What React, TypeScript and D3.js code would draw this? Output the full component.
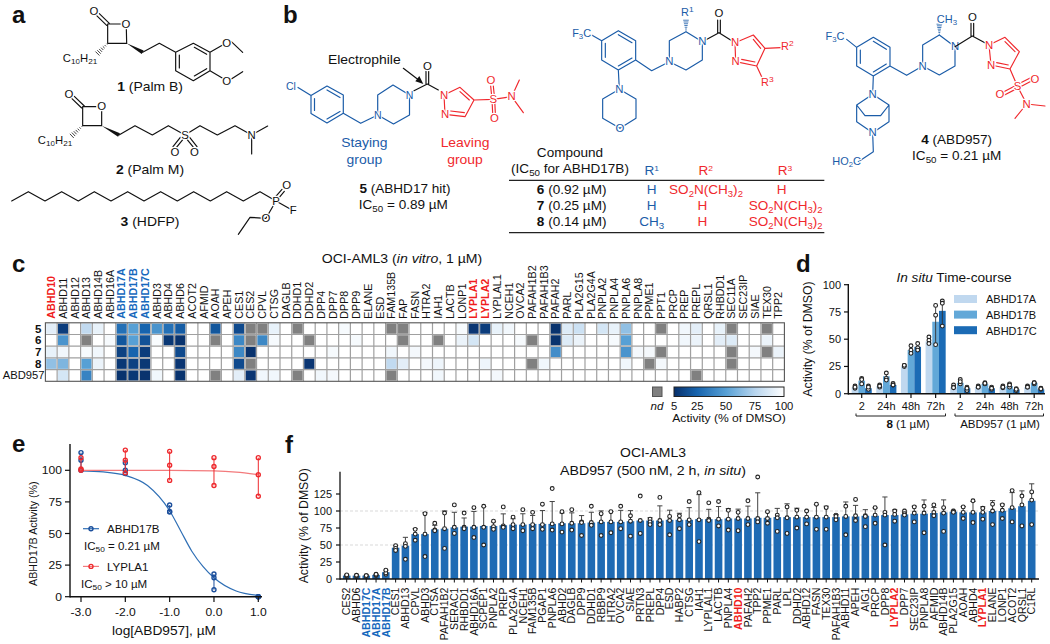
import React from "react";
import * as d3 from "d3";

const FONT = "'Liberation Sans', Arial, sans-serif";
const BLUE = "#1b5ca8";
const RED = "#f0282d";
const LBL_BLUE = "#1668bd";
const N = null;

// ---------- panel c ----------
const heatCols = ["ABHD10","ABHD11","ABHD12","ABHD13","ABHD14B","ABHD16A","ABHD17A","ABHD17B","ABHD17C","ABHD3","ABHD4","ABHD6","ACOT2","AFMID","AOAH","APEH","CES1","CES2","CPVL","CTSG","DAGLB","DDHD1","DDHD2","DPP4","DPP7","DPP8","DPP9","ELANE","ESD","FAM135B","FAP","FASN","HTRA2","IAH1","LACTB","LONP1","LYPLA1","LYPLA2","LYPLAL1","NCEH1","OVCA2","PAFAH1B2","PAFAH1B3","PAFAH2","PARL","PLA2G15","PLA2G4A","PNPLA2","PNPLA4","PNPLA6","PNPLA8","PPME1","PPT1","PRCP","PREP","PREPL","QRSL1","RHBDD1","SEC11A","SEC23IP","SIAE","TEX30","TPP2"];
const heatRowNames = ["5","6","7","8","ABD957"];
const row5 = [90,10,100,78,92,100,30,50,25,45, 30,22,100,100,20,100,15,N,N,92, 100,N,100,100,100,97,100,100,100,N, N,100,100,100,100,97,7,10,92,95, 100,100,100,6,88,82,100,85,92,65, 100,100,N,100,95,90,100,92,N,100, 100,N,100];
const row6 = [100,45,100,N,100,97,20,50,18,98, 8,6,100,100,N,100,40,N,40,97, 100,100,N,100,100,100,97,100,100,100, N,100,100,N,100,93,85,100,100,100, 97,N,100,6,88,93,100,100,97,50, 100,100,100,100,95,93,100,90,88,100, 100,93,100];
const row7 = [92,95,100,97,95,100,12,25,10,100, 100,15,100,100,100,100,40,6,100,100, 100,100,100,100,97,100,100,100,100,95, 100,96,100,100,100,100,100,100,100,100, 100,100,100,42,100,100,100,100,100,45, 96,96,N,100,100,100,100,100,N,100, 96,N,93];
const row8 = [65,60,100,50,93,100,8,12,8,100, 100,7,100,100,100,100,15,N,100,100, 100,100,7,100,100,100,100,100,100,78, 90,100,96,94,100,100,100,94,100,100, 100,N,95,100,100,100,100,100,100,95, 100,N,96,100,100,100,100,100,N,100, 100,100,100];
const rowABD = [100,85,100,38,100,100,6,8,6,95, 100,6,100,100,N,100,90,7,95,95, 100,N,100,95,96,100,100,100,100,N, 100,100,100,95,100,100,100,100,96,100, 100,100,100,100,100,100,100,100,100,100, 100,100,100,100,100,N,100,100,100,100, 100,100,100];
const heatRows = [row5,row6,row7,row8,rowABD];
const heatStops = [5,25,50,75,100];
const heatColors = ["#08306b","#1764ae","#57a0d5","#b8d5ee","#ffffff"];
const blueLabels = ["ABHD17A","ABHD17B","ABHD17C"];
const redLabels = ["ABHD10","LYPLA1","LYPLA2"];

// ---------- panel d ----------
const timeLabels = ["2","24h","48h","72h","2","24h","48h","72h"];
const dSeries = ["ABHD17A","ABHD17B","ABHD17C"];
const dColors = ["#c0d8ef","#62a8d8","#1b6bb5"];
const dMeans = [[6,7,25,48,6,6,6,6],[12,16,40,66,10,9,7,10],[5,8,43,76,5,5,4,4]];
const dPointsA = [[7,5,6],[8,6,7],[26,25,26],[52,49,46],[8,6,5.5],[7,6,6],[7,5.5,6],[7,6,6]];
const dPointsB = [[14,9,13],[19,14,12.5],[44,40,37],[81,72,45],[13,9,11],[10,9,9.5],[9,6,8],[10,9,10]];
const dPointsC = [[7,4,6],[9.5,8,8],[46,42,40],[85,83,62],[6,3,5],[6,4,5],[4.5,3,4],[5,4,4.5]];
const dPoints = [dPointsA,dPointsB,dPointsC];
const dTicks = [0,25,50,75,100];

// ---------- panel e ----------
const eDoses = [-3,-2,-1,0,1];
const eBluePts = [[114,108,100],[106,100,97.5],[72.5,67,67.5],[18,15,5.5],[0,0,0]];
const eRedPts = [[110,101,100],[116,108,98],[115,104,92],[110,103,88],[110,96.5,79.5]];
const eBlueCurveX = [-3,-2.5,-2,-1.5,-1,-0.75,-0.5,-0.25,0,0.5,1];
const eBlueCurveY = [99.5,98.7,96,88,68,52,36,24,15,4.5,1];
const eRedCurveX = [-3,-2,-1,0,0.5,1];
const eRedCurveY = [100,100,100,99.5,98.5,96.5];
const eTicks = [0,25,50,75,100];

// ---------- panel f ----------
const fNames = ["CES2","ABHD6","ABHD17C","ABHD17A","ABHD17B","CES1","ABHD13","CPVL","ABHD3","CTSA","PAFAH1B2","SERAC1","RHBDD1","ABHD16A","SCPEP1","PNPLA2","PREP","PLA2G4A","NCEH1","FAM135B","PGAP1","PNPLA6","ABHD2","DAGLB","DPP9","DDHD1","RBBP9","HTRA2","OVCA2","SIAE","PRTN3","PREPL","DPP4","ESD","HABP2","CTSG","IAH1","LYPLAL1","LACTB","PNPLA4","ABHD10","PAFAH2","TPP2","PPME1","PARL","LPL","DDHD2","ABHD12","FASN","TEX30","PAFAH1B3","ABHD11","APEH","AIG1","PRCP","DPP8","LYPLA2","DPP7","SEC23IP","PNPLA8","AFMID","ABHD14B","PLA2G15","AOAH","ABHD4","LYPLA1","ELANE","LONP1","ACOT2","QRSL1","C1RL"];
const fMeans = [5,5,5,6,10,46,49,66,66,73,74,76,77,77,78,78,79,80,80,81,81,81,82,82,82,83,84,84,84,85,86,86,86,87,87,87,88,88,88,89,89,89,90,90,91,91,91,91,91,91,91,92,92,93,93,94,94,95,96,96,97,98,99,98,98,98,100,100,104,107,115];
const fPoints = [[4,5,6],[4,5,5.5],[4,5,5],[5,6,7],[7,9,13],[49,45,42],[52,48,29],[73,66,57],[96,66,33],[82,72,71],[97,74,45],[109,76,67],[97,76,74],[105,76,61],[107,76,50],[85,77,73],[106,78,76],[91,80,74],[102,80,71],[98,80,74],[110,80,73],[133,81,72],[99,81,69],[102,82,72],[84,83,64],[107,83,79],[96,84,64],[99,84,68],[107,84,74],[93,85,63],[122,86,67],[88,84,80],[120,86,80],[92,86,65],[93,87,74],[114,87,80],[127,87,55],[112,88,86],[114,88,78],[101,88,72],[98,89,71],[115,89,80],[150,89,84],[99,89,82],[94,90,70],[106,90,67],[101,91,75],[100,91,81],[110,91,73],[105,91,73],[94,92,87],[107,92,65],[117,93,86],[93,92,77],[105,94,82],[98,94,50],[100,95,85],[100,96,94],[106,97,84],[107,97,68],[109,98,93],[105,97,70],[100,99,98],[106,98,89],[115,98,83],[104,98,88],[110,100,80],[109,101,89],[130,105,84],[122,109,78],[128,116,80]];
const fTicks = [0,25,50,75,100,125];
const fGrid = [50,100];

// ---------- scales ----------
const hx = d3.scaleBand<number>().domain(d3.range(heatCols.length)).range([45.4,784.4]);
const hy = d3.scaleBand<number>().domain(d3.range(heatRows.length)).range([322.8,381.3]);
const hc = d3.scaleLinear<string>().domain(heatStops).range(heatColors);
const cbx = d3.scaleLinear().domain([5,100]).range([674,784]);

const dx = d3.scalePoint<number>().domain(d3.range(timeLabels.length)).range([861.7,1034.2]);
const dy = d3.scaleLinear().domain([0,100]).range([393.7,284.7]);
const DBAR = 6.7;

const ex = d3.scaleLinear().domain([-3,1]).range([81,258.3]);
const ey = d3.scaleLinear().domain([0,100]).range([596.7,470.3]);
const eLine = d3.line<number[]>().x(d => ex(d[0])).y(d => ey(d[1])).curve(d3.curveMonotoneX);

const fx = d3.scalePoint<number>().domain(d3.range(fNames.length)).range([346.7,1031.7]);
const fy = d3.scaleLinear().domain([0,100]).range([579,511]);
const FBAR = 7.6;

// ---------- text helpers ----------
const SX = 1.1;
function T({x,y,f,anchor="start",fill="#111",weight,italic,children}: any){
  return <text transform={`translate(${x},${y}) scale(${SX},1)`} fontSize={f} textAnchor={anchor} fill={fill} fontWeight={weight} fontStyle={italic?"italic":undefined}>{children}</text>;
}
function V({x,y,f,sy=SX,anchor="middle",fill="#111",weight,children}: any){
  return <text transform={`translate(${x},${y}) rotate(-90) scale(1,${sy})`} fontSize={f} textAnchor={anchor} fill={fill} fontWeight={weight}>{children}</text>;
}
const Sub = ({f,children}: any) => <tspan baselineShift={-f*0.22} fontSize={f*0.72}>{children}</tspan>;

function A({x,y,c="#111",f=31,anchor="middle",children}: any){
  return <text transform={`translate(${x},${y+f*0.36}) scale(${SX},1)`} fontSize={f} textAnchor={anchor} fill={c} stroke="#fff" strokeWidth={7} paintOrder="stroke" strokeLinejoin="round">{children}</text>;
}
function B({d,c="#111",w=3.5}: any){
  return <path d={d} fill="none" stroke={c} strokeWidth={w} strokeLinejoin="round" strokeLinecap="round"/>;
}
const Hash = ({x1,y1,x2,y2,c="#111"}: any) => {
  const n = 7, dxx = x2-x1, dyy = y2-y1, L = Math.hypot(dxx,dyy), nx = -dyy/L, ny = dxx/L;
  return <g stroke={c} strokeWidth={2.4}>{d3.range(n).map(i => {
    const t=(i+0.5)/n, h=1+t*8;
    return <line key={i} x1={x1+dxx*t+nx*h} y1={y1+dyy*t+ny*h} x2={x1+dxx*t-nx*h} y2={y1+dyy*t-ny*h}/>;
  })}</g>;
};
const Wedge = ({x1,y1,x2,y2,c="#111"}: any) => {
  const dxx=x2-x1, dyy=y2-y1, L=Math.hypot(dxx,dyy), nx=-dyy/L*6, ny=dxx/L*6;
  return <polygon points={`${x1},${y1} ${x2+nx},${y2+ny} ${x2-nx},${y2-ny}`} fill={c}/>;
};
const C10 = () => <>C<Sub f={31}>10</Sub>H<Sub f={31}>21</Sub></>;
const SO2 = () => <>SO<Sub f={36}>2</Sub>N(CH<Sub f={36}>3</Sub>)<Sub f={36}>2</Sub></>;
const Sup = ({children}: any) => <tspan baselineShift={11} fontSize={23}>{children}</tspan>;

// ---------- chem: drawn in the 3x zoom space ----------
function Panel_a(){
  return <g transform="scale(0.33333)">
    <B d="M323,72 L362,72 M379,85 L380,130 L323,130 L323,72 M320,76 L290,47 M328,70 L298,41"/>
    <Wedge x1={380} y1={130} x2={428} y2={157}/>
    <B d="M428,157 L478,130 L527,157 L580,130 L630,157 L630,212 L580,242 L527,212 L527,157 M583,142 L620,163 M620,206 L583,228 M538,204 L538,165 M630,157 L668,135 M694,125 L728,157 M630,212 L668,235 M694,237 L728,215"/>
    <Hash x1={323} y1={130} x2={290} y2={163}/>
    <A x={282} y={35}>O</A><A x={378} y={72}>O</A><A x={680} y={130}>O</A><A x={680} y={245}>O</A>
    <A x={240} y={175}><C10/></A>
    <T x={450} y={272} f={38} anchor="middle"><tspan fontWeight="bold">1</tspan> (Palm B)</T>

    <B d="M248,320 L288,320 M305,333 L305,377 L248,377 L248,320 M245,324 L215,295 M253,318 L223,289"/>
    <Wedge x1={305} y1={377} x2={357} y2={405}/>
    <B d="M357,405 L405,377 L457,405 L505,377 L555,405 L600,377 L652,405 L705,377 L755,405 L803,378 M755,405 L755,462 M549,418 L527,445 M541,412 L519,440 M561,418 L583,445 M569,412 L591,440"/>
    <Hash x1={248} y1={377} x2={213} y2={410}/>
    <A x={207} y={282}>O</A><A x={305} y={320}>O</A><A x={555} y={405}>S</A><A x={525} y={458}>O</A><A x={583} y={458}>O</A><A x={755} y={405}>N</A>
    <A x={165} y={420}><C10/></A>
    <T x={450} y={521} f={38} anchor="middle"><tspan fontWeight="bold">2</tspan> (Palm M)</T>

    <B d="M35,603 L85,575 L135,603 L185,575 L235,603 L283,575 L333,603 L383,575 L432,603 L482,575 L532,603 L581,575 L631,603 L680,575 L730,603 L780,575 L828,603 L880,632 M828,603 L798,655 L750,652 L715,703 M825,592 L846,568 M833,598 L853,574"/>
    <A x={828} y={603}>P</A><A x={860} y={555}>O</A><A x={880} y={632}>F</A><A x={798} y={655}>O</A>
    <T x={450} y={679} f={38} anchor="middle"><tspan fontWeight="bold">3</tspan> (HDFP)</T>
  </g>;
}
function Panel_b(){
  return <>
    <g stroke={BLUE} strokeWidth={1.2} fill="none" strokeLinecap="round" strokeLinejoin="round">
      <path d="M298,87.5 L311,95.5 L327,86 L343.3,95 L343.3,113.3 L327,123 L311,113.5 L311,95.5 M314.5,98.5 L314.5,110.5 M327,90 L340,97.5 M327,119 L340,111.5 M343.3,113.3 L360.7,123.3 L377.7,115 L377.7,95 L393,85 L409.5,95 L409.5,115 L393.5,124 L377.7,115"/>
    </g>
    <text x={291} y={90} fontSize={10.5} fill={BLUE} textAnchor="middle" stroke="#fff" strokeWidth={2} paintOrder="stroke">Cl</text>
    <text x={377.7} y={119} fontSize={10.5} fill={BLUE} textAnchor="middle" stroke="#fff" strokeWidth={2} paintOrder="stroke">N</text>
    <text x={409.5} y={99} fontSize={10.5} fill={BLUE} textAnchor="middle" stroke="#fff" strokeWidth={2} paintOrder="stroke">N</text>
    <g transform="translate(330,0) scale(0.33333)">
      <B d="M252,272 L292,252 L325,270 M288,252 L288,214 M296,252 L296,214"/>
      <A x={292} y={198}>O</A>
      <B c={RED} d="M342,285 L390,262 L432,300 L405,350 L345,343 L342,285 M390,275 L418,300 M403,338 L362,333 M432,300 L490,298 L545,290 L568,240 M545,290 L580,338 M486,298 L482,258 M494,298 L490,258 M486,298 L488,340 M494,298 L496,340"/>
      <A x={342} y={285} c={RED}>N</A><A x={345} y={343} c={RED}>N</A><A x={490} y={298} c={RED}>S</A><A x={483} y={242} c={RED}>O</A><A x={493} y={355} c={RED}>O</A><A x={545} y={290} c={RED}>N</A>
      <B d="M220,205 L270,243"/>
      <polygon points="280,252 256,244 268,228" fill="#111"/>
      <T x={212} y={192} f={38} anchor="end">Electrophile</T>
      <T x={103} y={442} f={38} anchor="middle" fill={BLUE}>Staying</T>
      <T x={103} y={493} f={38} anchor="middle" fill={BLUE}>group</T>
      <T x={405} y={442} f={38} anchor="middle" fill={RED}>Leaving</T>
      <T x={405} y={493} f={38} anchor="middle" fill={RED}>group</T>
      <T x={225} y={578} f={37} anchor="middle"><tspan fontWeight="bold">5</tspan> (ABHD17 hit)</T>
      <T x={220} y={628} f={37} anchor="middle">IC<Sub f={37}>50</Sub> = 0.89 µM</T>

      {/* 6-8 */}
      <B c={BLUE} d="M785,105 L815,122 L865,92 L917,122 L917,180 L865,210 L815,180 L815,122 M826,130 L826,172 M865,104 L906,128 M865,198 L906,174 M917,180 L965,212 L1018,185 L1018,122 L1068,95 L1117,125 L1117,180 L1068,210 L1018,185 M865,210 L868,268 L918,297 L918,355 L870,385 L818,355 L818,297 L868,268"/>
      <Hash x1={1068} y1={95} x2={1068} y2={58} c={BLUE}/>
      <A x={755} y={100} c={BLUE} f={30}>F<Sub f={30}>3</Sub>C</A>
      <A x={1018} y={185} c={BLUE}>N</A><A x={868} y={268} c={BLUE}>N</A><A x={870} y={385} c={BLUE}>O</A>
      <A x={1072} y={38} c={BLUE} f={30}>R<Sup>1</Sup></A>
      <B d="M1117,125 L1167,98 L1215,128 M1163,98 L1163,60 M1171,98 L1171,60"/>
      <A x={1117} y={125} c={BLUE}>N</A>
      <A x={1167} y={40}>O</A>
      <B c={RED} d="M1215,128 L1270,105 L1305,145 L1280,198 L1217,185 L1215,128 M1270,118 L1292,145 M1275,186 L1235,178 M1305,145 L1352,143 M1280,198 L1295,230"/>
      <A x={1215} y={128} c={RED}>N</A><A x={1217} y={185} c={RED}>N</A>
      <A x={1372} y={138} c={RED} f={30}>R<Sup>2</Sup></A>
      <A x={1312} y={248} c={RED} f={30}>R<Sup>3</Sup></A>

      {/* table */}
      <T x={720} y={470} f={37} anchor="middle">Compound</T>
      <T x={720} y={520} f={37} anchor="middle">(IC<Sub f={37}>50</Sub> for ABHD17B)</T>
      <T x={965} y={524} f={37} anchor="middle" fill={BLUE}>R<Sup>1</Sup></T>
      <T x={1127} y={524} f={37} anchor="middle" fill={RED}>R<Sup>2</Sup></T>
      <T x={1365} y={524} f={37} anchor="middle" fill={RED}>R<Sup>3</Sup></T>
      <line x1={537} x2={1483} y1={541} y2={541} stroke="#222" strokeWidth={3.6}/>
      <line x1={537} x2={1483} y1={698} y2={698} stroke="#222" strokeWidth={3.6}/>
      <T x={725} y={583} f={37} anchor="middle"><tspan fontWeight="bold">6</tspan> (0.92 µM)</T>
      <T x={725} y={631} f={37} anchor="middle"><tspan fontWeight="bold">7</tspan> (0.25 µM)</T>
      <T x={725} y={679} f={37} anchor="middle"><tspan fontWeight="bold">8</tspan> (0.14 µM)</T>
      <T x={965} y={583} f={37} anchor="middle" fill={BLUE}>H</T>
      <T x={965} y={631} f={37} anchor="middle" fill={BLUE}>H</T>
      <T x={965} y={679} f={37} anchor="middle" fill={BLUE}>CH<Sub f={37}>3</Sub></T>
      <T x={1128} y={581} f={37} anchor="middle" fill={RED}><SO2/></T>
      <T x={1117} y={631} f={37} anchor="middle" fill={RED}>H</T>
      <T x={1117} y={679} f={37} anchor="middle" fill={RED}>H</T>
      <T x={1355} y={583} f={37} anchor="middle" fill={RED}>H</T>
      <T x={1367} y={631} f={37} anchor="middle" fill={RED}><SO2/></T>
      <T x={1367} y={679} f={37} anchor="middle" fill={RED}><SO2/></T>
    </g>
    <g transform="translate(690,0) scale(0.33333)">
      <B c={BLUE} d="M470,118 L500,142 L550,112 L600,142 L600,198 L550,228 L500,198 L500,142 M511,150 L511,190 M550,124 L589,148 M550,216 L589,192 M600,198 L650,226 L698,198 L698,135 L748,105 L795,140 L795,198 L748,225 L698,198 M550,228 L548,283 L500,315 L500,365 L548,398 L597,365 L597,315 L548,283 M500,315 L525,347 L572,347 L597,315 M548,398 L550,455 L505,485"/>
      <Hash x1={748} y1={105} x2={748} y2={70} c={BLUE}/>
      <A x={435} y={110} c={BLUE} f={30}>F<Sub f={30}>3</Sub>C</A>
      <A x={470} y={483} c={BLUE} f={30}>HO<Sub f={30}>2</Sub>C</A>
      <A x={771} y={57} c={BLUE} f={30}>CH<Sub f={30}>3</Sub></A>
      <A x={698} y={198} c={BLUE}>N</A><A x={795} y={140} c={BLUE}>N</A><A x={548} y={283} c={BLUE}>N</A><A x={548} y={398} c={BLUE}>N</A>
      <B d="M795,140 L847,108 L897,135 M843,108 L843,70 M851,108 L851,70"/>
      <A x={847} y={52}>O</A>
      <B c={RED} d="M897,135 L945,112 L988,155 L960,207 L903,195 L897,135 M945,125 L975,155 M955,195 L920,188 M960,207 L983,260 L1010,312 L1065,318 M1010,312 L975,355 M979,255 L1025,232 M986,263 L1030,240 M980,255 L936,278 M986,263 L942,286"/>
      <A x={897} y={135} c={RED}>N</A><A x={903} y={195} c={RED}>N</A><A x={983} y={260} c={RED}>S</A><A x={930} y={282} c={RED}>O</A><A x={1035} y={238} c={RED}>O</A><A x={1010} y={312} c={RED}>N</A>
      <T x={800} y={432} f={37} anchor="middle"><tspan fontWeight="bold">4</tspan> (ABD957)</T>
      <T x={800} y={480} f={37} anchor="middle">IC<Sub f={37}>50</Sub> = 0.21 µM</T>
    </g>
  </>;
}

// ---------- panels ----------
function Panel_c(){
  const cw = hx.bandwidth(), ch = hy.bandwidth();
  return <g>
    <T x={402} y={263} f={12.8} anchor="middle">OCI-AML3 (<tspan fontStyle="italic">in vitro</tspan>, 1 µM)</T>
    {heatCols.map((c,i) => <V key={c} x={hx(i)!+cw/2+3.8} y={318.7} f={10.7} sy={1.02} anchor="start"
      fill={blueLabels.includes(c)?LBL_BLUE:redLabels.includes(c)?"#f01c20":"#111"}
      weight={blueLabels.includes(c)||redLabels.includes(c)?"bold":undefined}>{c}</V>)}
    {heatRowNames.map((r,i) => <T key={r} x={i<4?41.5:44.5} y={hy(i)!+ch/2+(i<4?4:3.9)} f={i<4?10.5:10.2} anchor="end" weight={i<4?"bold":undefined}>{r}</T>)}
    <rect x={45.4} y={322.8} width={739} height={58.5} fill="#fff"/>
    {heatRows.map((row,r) => row.map((v,c) => <rect key={r+"-"+c} x={hx(c)!+0.75} y={hy(r)!+0.75} width={cw-1.5} height={ch-1.5} fill={v===null?"#808080":hc(v)}/>))}
    {d3.range(1,heatCols.length).map(i => <line key={i} x1={hx(i)!} x2={hx(i)!} y1={322.8} y2={381.3} stroke="#a0a0a0" strokeWidth={1.2}/>)}
    {d3.range(1,heatRows.length).map(i => <line key={i} y1={hy(i)!} y2={hy(i)!} x1={45.4} x2={784.4} stroke="#a0a0a0" strokeWidth={1.2}/>)}
    <rect x={45.4} y={322.8} width={739} height={58.5} fill="none" stroke="#555" strokeWidth={1.1}/>
    <rect x={652.5} y={387} width={9.5} height={9.5} fill="#808080" stroke="#555" strokeWidth={1}/>
    <T x={657} y={410} f={10.5} anchor="middle" italic>nd</T>
    <defs><linearGradient id="cb">{heatStops.map((s,i) => <stop key={s} offset={(s-5)/95} stopColor={heatColors[i]}/>)}</linearGradient></defs>
    <rect x={674} y={387} width={110} height={9.5} fill="url(#cb)" stroke="#222" strokeWidth={1}/>
    {heatStops.map(s => <T key={s} x={cbx(s)} y={410} f={10.2} anchor="middle">{s}</T>)}
    <T x={729} y={422} f={11} anchor="middle">Activity (% of DMSO)</T>
  </g>;
}

function Panel_d(){
  return <g>
    <T x={954} y={282} f={12.4} anchor="middle"><tspan fontStyle="italic">In situ</tspan> Time-course</T>
    {dSeries.map((s,i) => <g key={s}>
      <rect x={954} y={295+i*15.6} width={23} height={8} fill={dColors[i]}/>
      <T x={986} y={303.3+i*15.6} f={10} >{s}</T>
    </g>)}
    {dMeans.map((vals,s) => vals.map((v,i) => <rect key={s+"-"+i} x={dx(i)!+(s-1.5)*DBAR} y={dy(v)} width={DBAR} height={dy(0)-dy(v)} fill={dColors[s]}/>))}
    {dPoints.map((g,s) => g.map((pts,i) => {
      const cx = dx(i)!+(s-1)*DBAR;
      return <g key={s+"-"+i}>
        <line x1={cx} x2={cx} y1={dy(d3.max(pts)!)} y2={dy(d3.min(pts)!)} stroke="#333" strokeWidth={0.9}/>
        {pts.map((p,k) => <circle key={k} cx={cx} cy={dy(p)} r={1.9} fill="#fff" stroke="#222" strokeWidth={1.1}/>)}
      </g>;
    }))}
    <line x1={848.3} x2={848.3} y1={284} y2={394.4} stroke="#111" strokeWidth={1.4}/>
    <line x1={848} x2={1045} y1={393.7} y2={393.7} stroke="#111" strokeWidth={1.4}/>
    {dTicks.map(t => <g key={t}>
      <line x1={844} x2={848} y1={dy(t)} y2={dy(t)} stroke="#111" strokeWidth={1.2}/>
      <T x={841} y={dy(t)+3.8} f={10} anchor="end">{t}</T>
    </g>)}
    {timeLabels.map((l,i) => <g key={i}>
      <line x1={dx(i)!} x2={dx(i)!} y1={393.7} y2={398} stroke="#111" strokeWidth={1.2}/>
      <T x={dx(i)!} y={410} f={10} anchor="middle">{l}</T>
    </g>)}
    <V x={811.5} y={339} f={12.3}>Activity (% of DMSO)</V>
    <path d="M856,413.5 V416 H945.5 V413.5 M955,413.5 V416 H1043.5 V413.5" fill="none" stroke="#222" strokeWidth={1}/>
    <T x={908} y={428} f={10.5} anchor="middle"><tspan fontWeight="bold">8</tspan> (1 µM)</T>
    <T x={1000} y={428} f={10.5} anchor="middle">ABD957 (1 µM)</T>
  </g>;
}

function Panel_e(){
  const blueCurve = eBlueCurveX.map((x,i) => [x,eBlueCurveY[i]]);
  const redCurve = eRedCurveX.map((x,i) => [x,eRedCurveY[i]]);
  const series = [{pts:eBluePts,c:"#1c4f9c"},{pts:eRedPts,c:"#ee2a2e"}];
  return <g>
    <path d={eLine(blueCurve)!} fill="none" stroke="#2f6fb5" strokeWidth={1.2}/>
    <path d={eLine(redCurve)!} fill="none" stroke="#f37a7c" strokeWidth={1.2}/>
    {series.map((s,k) => s.pts.map((pts,i) => <g key={k+"-"+i}>
      <line x1={ex(eDoses[i])} x2={ex(eDoses[i])} y1={ey(d3.max(pts)!)} y2={ey(d3.min(pts)!)} stroke={s.c} strokeWidth={1}/>
      {pts.map((p,j) => <circle key={j} cx={ex(eDoses[i])} cy={ey(p)} r={2} fill="none" stroke={s.c} strokeWidth={1.4}/>)}
    </g>))}
    <line x1={70} x2={70} y1={444} y2={597.5} stroke="#111" strokeWidth={1.4}/>
    <line x1={70} x2={262} y1={596.7} y2={596.7} stroke="#111" strokeWidth={1.4}/>
    {eTicks.map(t => <g key={t}>
      <line x1={65} x2={70} y1={ey(t)} y2={ey(t)} stroke="#111" strokeWidth={1.2}/>
      <T x={62} y={ey(t)+4} f={11} anchor="end">{t}</T>
    </g>)}
    {eDoses.map(d => <g key={d}>
      <line x1={ex(d)} x2={ex(d)} y1={596.7} y2={602} stroke="#111" strokeWidth={1.2}/>
      <T x={ex(d)} y={616} f={11} anchor="middle">{d.toFixed(1)}</T>
    </g>)}
    <V x={37} y={533.7} f={10.7}>ABHD17B Activity (%)</V>
    <T x={164} y={635} f={12.5} anchor="middle">log[ABD957], µM</T>
    <line x1={83} x2={99} y1={528.7} y2={528.7} stroke="#2f6fb5" strokeWidth={1.2}/>
    <circle cx={91} cy={528.7} r={2} fill="none" stroke="#1c4f9c" strokeWidth={1.4}/>
    <T x={107} y={533} f={10.5}>ABHD17B</T>
    <T x={84} y={550} f={10.5}>IC<Sub f={10.5}>50</Sub> = 0.21 µM</T>
    <line x1={83} x2={99} y1={566.4} y2={566.4} stroke="#f37a7c" strokeWidth={1.2}/>
    <circle cx={91} cy={566.4} r={2} fill="none" stroke="#ee2a2e" strokeWidth={1.4}/>
    <T x={107} y={570.5} f={10.5}>LYPLA1</T>
    <T x={81} y={588} f={10.5}>IC<Sub f={10.5}>50</Sub> {">"} 10 µM</T>
  </g>;
}

function Panel_f(){
  return <g>
    <T x={653} y={457} f={12.7} anchor="middle">OCI-AML3</T>
    <T x={653} y={475} f={12.9} anchor="middle">ABD957 (500 nM, 2 h, <tspan fontStyle="italic">in situ</tspan>)</T>
    {fGrid.map(g => <line key={g} x1={340} x2={1039} y1={fy(g)} y2={fy(g)} stroke="#d5d5d5" strokeWidth={0.9} strokeDasharray="3 2"/>)}
    {fMeans.map((v,i) => <rect key={i} x={fx(i)!-FBAR/2} y={fy(v)} width={FBAR} height={fy(0)-fy(v)} fill="#1f6bb4"/>)}
    {fPoints.map((pts,i) => {
      const top = fMeans[i]+d3.deviation(pts)!;
      return <g key={i}>
        {fNames[i]!=="PRTN3" && <path d={`M${fx(i)!},${fy(fMeans[i])} V${fy(top)} M${fx(i)!-2.6},${fy(top)} h5.2`} fill="none" stroke="#444" strokeWidth={1}/>}
        {pts.map((p,k) => <circle key={k} cx={fx(i)!} cy={fy(p)} r={1.9} fill="#fff" stroke="#222" strokeWidth={1.1}/>)}
      </g>;
    })}
    <line x1={340} x2={340} y1={471.7} y2={579.7} stroke="#111" strokeWidth={1.3}/>
    <line x1={340} x2={1039} y1={579} y2={579} stroke="#111" strokeWidth={1.3}/>
    {fTicks.map(t => <g key={t}>
      <line x1={336} x2={340} y1={fy(t)} y2={fy(t)} stroke="#111" strokeWidth={1.2}/>
      <T x={332} y={fy(t)+3.8} f={10} anchor="end">{t}</T>
    </g>)}
    <V x={308} y={525.7} f={12.3}>Activity (% of DMSO)</V>
    {fNames.map((n,i) => {
      const b = n.startsWith("ABHD17"), r = redLabels.includes(n);
      return <g key={n}>
        <line x1={fx(i)!} x2={fx(i)!} y1={579} y2={582.5} stroke="#111" strokeWidth={1}/>
        <V x={fx(i)!+3.7} y={587.5} f={10.6} sy={1} anchor="end" fill={b?LBL_BLUE:r?"#f01c20":"#111"} weight={b||r?"bold":undefined}>{n}</V>
      </g>;
    })}
  </g>;
}

const letters = [["a",12,23],["b",283,23],["c",12,272],["d",796,272],["e",12,452],["f",285,453]] as const;

export default function App(){
  return <svg width={1050} height={644} viewBox="0 0 1050 644" style={{position:"absolute",left:0,top:0,display:"block",background:"#fff"}} fontFamily={FONT}>
    <rect width={1050} height={644} fill="#fff"/>
    {letters.map(([l,x,y]) => <text key={l} x={x} y={y} fontSize={24} fontWeight="bold" fill="#111">{l}</text>)}
    <Panel_a/>
    <Panel_b/>
    <Panel_c/>
    <Panel_d/>
    <Panel_e/>
    <Panel_f/>
  </svg>;
}
